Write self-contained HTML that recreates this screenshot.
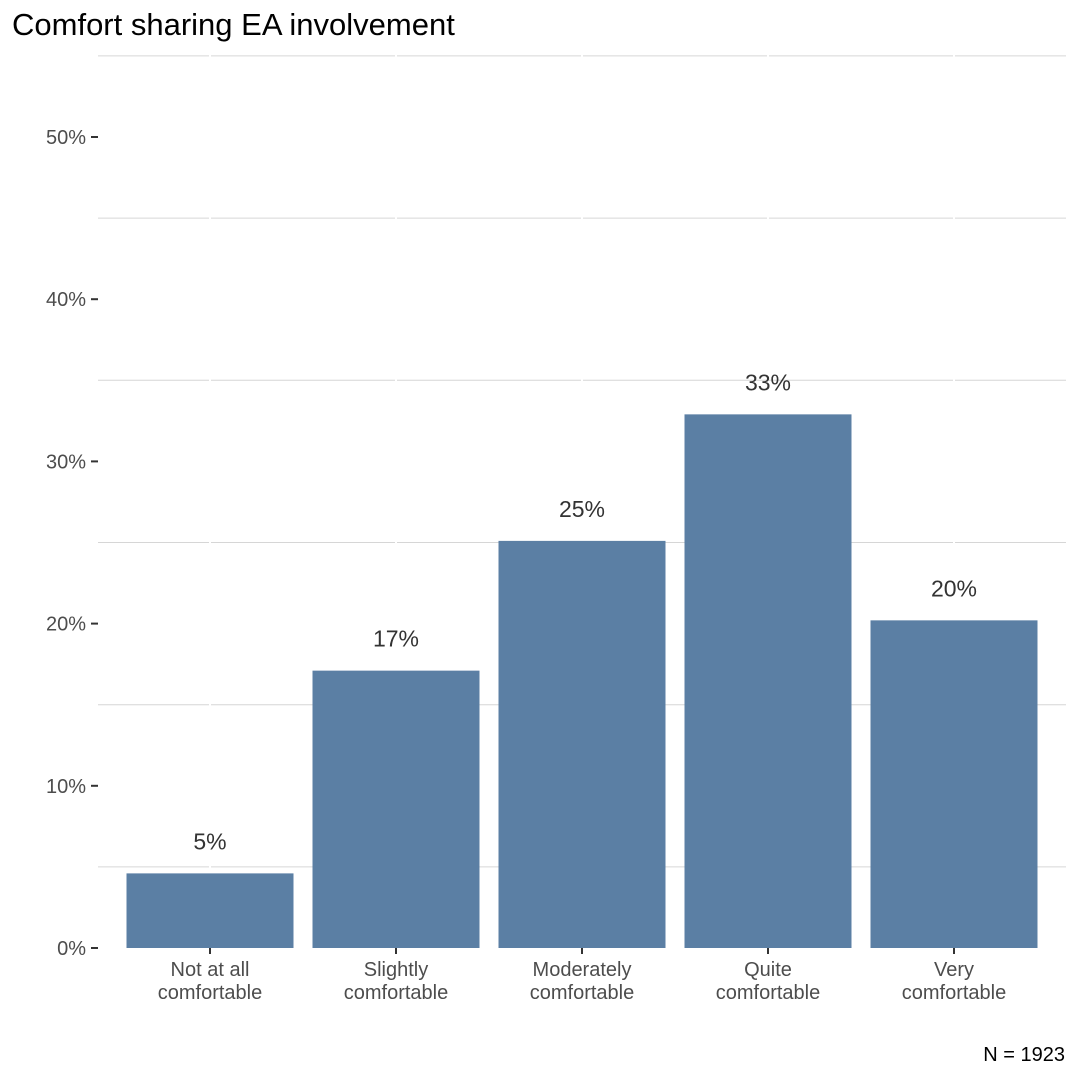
<!DOCTYPE html>
<html><head><meta charset="utf-8"><style>
body{margin:0;background:#fff;}
svg{display:block;font-family:"Liberation Sans",Arial,sans-serif;}
</style></head><body>
<svg id="chart" width="1079" height="1079" viewBox="0 0 1079 1079">
<rect width="1079" height="1079" fill="#fff"/>
<text x="12" y="35" font-size="31" fill="#000">Comfort sharing EA involvement</text>
<g id="grid"></g><g id="bars"></g><g id="axes"></g>
<text x="1065" y="1061" font-size="20" fill="#000" text-anchor="end">N = 1923</text>
</svg>
<script>
const categories = [["Not at all","comfortable"],["Slightly","comfortable"],["Moderately","comfortable"],["Quite","comfortable"],["Very","comfortable"]];
const values = [4.6, 17.1, 25.1, 32.9, 20.2];
const valueLabels = ["5%","17%","25%","33%","20%"];
const yTicks = [0,10,20,30,40,50];
const yMinor = [5,15,25,35,45,55];
const NS="http://www.w3.org/2000/svg";
const y0=948, pxPer=16.22, x0=98, x1=1066;
const y=v=>y0-v*pxPer;
const step=186;
const xc=i=>210+step*i;
const bw=167;
function mk(t,a,p){const e=document.createElementNS(NS,t);for(const k in a)e.setAttribute(k,a[k]);p.appendChild(e);return e;}
const grid=document.getElementById('grid'),bars=document.getElementById('bars'),axes=document.getElementById('axes');
yMinor.forEach(v=>{const l=mk('line',{x1:x0,x2:x1,y1:y(v),y2:y(v),stroke:'#d6d6d6','stroke-width':1},grid);

});
yTicks.forEach(v=>{const l=mk('line',{x1:x0,x2:x1,y1:y(v),y2:y(v),stroke:'#fff','stroke-width':2},grid);


const tk=mk('line',{x1:91,x2:98,y1:y(v),y2:y(v),stroke:'#333','stroke-width':2},axes);


const t=mk('text',{x:86,y:y(v)+7,'font-size':20,fill:'#4d4d4d','text-anchor':'end'},axes);t.textContent=v+'%';

});
categories.forEach((c,i)=>{
const vl=mk('line',{x1:xc(i),x2:xc(i),y1:40,y2:y0,stroke:'#fff','stroke-width':2},grid);


const r=mk('rect',{x:xc(i)-bw/2,y:y(values[i]),width:bw,height:y0-y(values[i]),fill:'#5b7fa4'},bars);


const lb=mk('text',{x:xc(i),y:y(values[i])-24,'font-size':23,fill:'#333','text-anchor':'middle'},bars);lb.textContent=valueLabels[i];


const tk=mk('line',{x1:xc(i),x2:xc(i),y1:y0,y2:y0+6,stroke:'#333','stroke-width':2},axes);


c.forEach((s,j)=>{const t=mk('text',{x:xc(i),y:976+j*23,'font-size':20,fill:'#4d4d4d','text-anchor':'middle'},axes);t.textContent=s;

});
});
</script>
</body></html>
